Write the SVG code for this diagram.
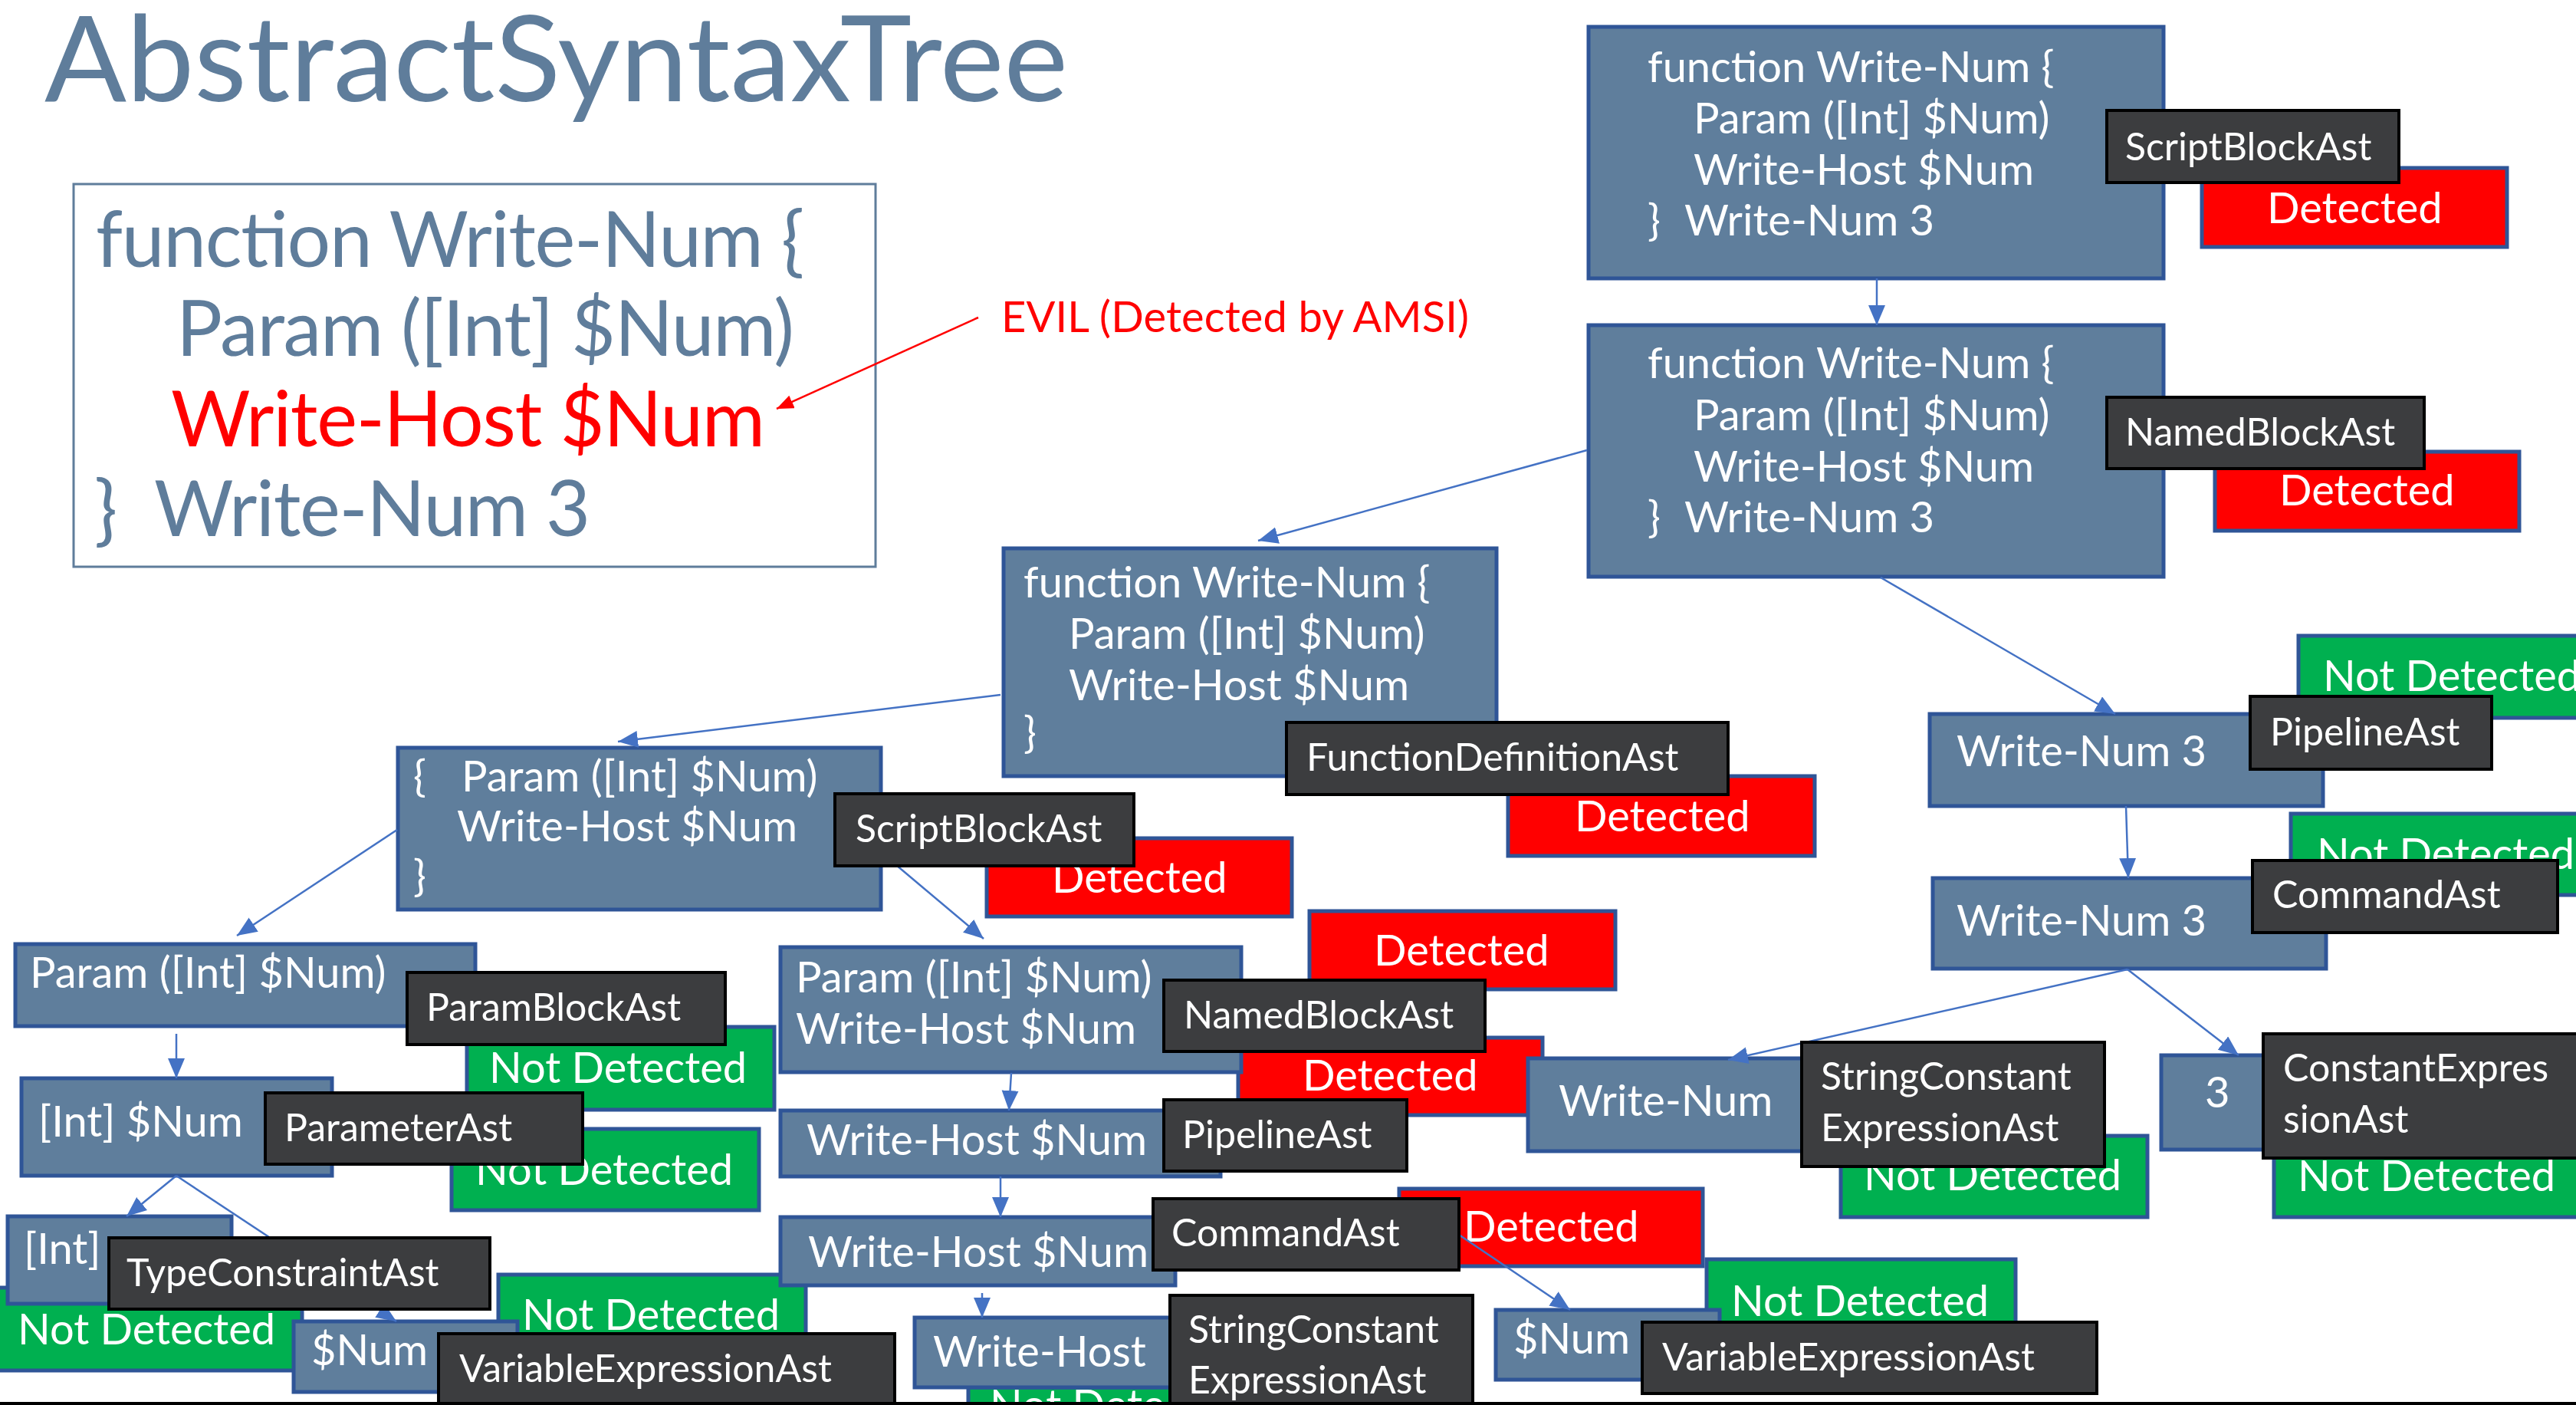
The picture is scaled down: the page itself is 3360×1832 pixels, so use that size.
<svg xmlns="http://www.w3.org/2000/svg" width="3360" height="1832" viewBox="0 0 3360 1832">
<style>
text{font-family:Lato,"Liberation Sans",sans-serif}
.title{font-size:155px;font-weight:400;fill:#5f7d9b}
.code{font-size:100px;fill:#5f7d9b}
.evil{font-size:56px;fill:#ff0000}
.node rect{fill:#5f7e9c;stroke:#2f5597;stroke-width:5}
.node text{font-size:56px;fill:#fff}
.lbl rect{fill:#3c3d3f;stroke:#000;stroke-width:4}
.lbl text{font-size:50px;fill:#fff}
.det rect{fill:#ff0000;stroke:#2f5597;stroke-width:5}
.nd rect{fill:#00b050;stroke:#2f5597;stroke-width:5}
.det text,.nd text{font-size:56px;fill:#fff}
.conn line{stroke:#4472c4;stroke-width:2.5;marker-end:url(#ah)}
</style>
<defs>
<marker id="ah" markerUnits="userSpaceOnUse" markerWidth="30" markerHeight="24" refX="26" refY="11" orient="auto"><path d="M0,0 L26,11 L0,22 Z" fill="#4472c4"/></marker>
<marker id="ahr" markerUnits="userSpaceOnUse" markerWidth="26" markerHeight="20" refX="22" refY="9" orient="auto"><path d="M0,0 L22,9 L0,18 Z" fill="#ff0000"/></marker>
</defs>
<rect x="0" y="0" width="3360" height="1832" fill="#fff"/>

<g id="title"><text class="title" x="58" y="132" textLength="1335" lengthAdjust="spacingAndGlyphs">AbstractSyntaxTree</text></g>

<g id="code">
<rect x="96" y="240" width="1046" height="499" fill="none" stroke="#5f7d9b" stroke-width="3"/>
<text class="code" x="125" y="348" textLength="924">function Write-Num {</text>
<text class="code" x="230" y="464" textLength="806">Param ([Int] $Num)</text>
<text class="code" x="223" y="582" textLength="775" style="fill:#ff0000">Write-Host $Num</text>
<text class="code" x="123" y="699">}</text>
<text class="code" x="201" y="699" textLength="569">Write-Num 3</text>
</g>
<g id="evil">
<line x1="1276" y1="414" x2="1013" y2="533" stroke="#ff0000" stroke-width="2.5" marker-end="url(#ahr)"/>
<text class="evil" x="1306" y="433" textLength="610">EVIL (Detected by AMSI)</text>
</g>

<!-- detection boxes -->
<g id="det1" class="det"><rect x="2872" y="219" width="398" height="103"/><text x="2957" y="291">Detected</text></g>
<g id="det2" class="det"><rect x="2889" y="589" width="397" height="103"/><text x="2973" y="659">Detected</text></g>
<g id="det3" class="det"><rect x="1967" y="1012" width="400" height="104"/><text x="2054" y="1084">Detected</text></g>
<g id="det4" class="det"><rect x="1287" y="1093" width="398" height="102"/><text x="1372" y="1164">Detected</text></g>
<g id="det5" class="det"><rect x="1708" y="1188" width="399" height="102"/><text x="1792" y="1259">Detected</text></g>
<g id="det6" class="det"><rect x="1615" y="1353" width="397" height="101"/><text x="1699" y="1422">Detected</text></g>
<g id="det7" class="det"><rect x="1825" y="1550" width="396" height="101"/><text x="1909" y="1619">Detected</text></g>
<g id="nd1" class="nd"><rect x="609" y="1339" width="401" height="108"/><text x="638" y="1412">Not Detected</text></g>
<g id="nd2" class="nd"><rect x="589" y="1472" width="401" height="106"/><text x="620" y="1545">Not Detected</text></g>
<g id="nd3" class="nd"><rect x="-5" y="1679" width="399" height="108"/><text x="23" y="1753">Not Detected</text></g>
<g id="nd4" class="nd"><rect x="650" y="1662" width="401" height="106"/><text x="681" y="1734">Not Detected</text></g>
<g id="nd5" class="nd"><rect x="1263" y="1809" width="400" height="104"/><text x="1291" y="1852">Not Detected</text></g>
<g id="nd6" class="nd"><rect x="2226" y="1642" width="403" height="104"/><text x="2258" y="1716">Not Detected</text></g>
<g id="nd7" class="nd"><rect x="2401" y="1481" width="400" height="106"/><text x="2431" y="1552">Not Detected</text></g>
<g id="nd8" class="nd"><rect x="2966" y="1481" width="420" height="106"/><text x="2997" y="1553">Not Detected</text></g>
<g id="nd9" class="nd"><rect x="2998" y="829" width="420" height="107"/><text x="3030" y="901">Not Detected</text></g>
<g id="nd10" class="nd"><rect x="2988" y="1061" width="420" height="106"/><text x="3022" y="1133">Not Detected</text></g>

<!-- nodes -->
<g id="nodeA" class="node"><rect x="2072" y="35" width="750" height="328"/>
<text x="2149" y="107">function Write-Num {</text><text x="2209" y="174">Param ([Int] $Num)</text><text x="2209" y="241">Write-Host $Num</text><text x="2149" y="307">}</text><text x="2197" y="307">Write-Num 3</text></g>
<g id="nodeB" class="node"><rect x="2072" y="424" width="750" height="328"/>
<text x="2149" y="493">function Write-Num {</text><text x="2209" y="561">Param ([Int] $Num)</text><text x="2209" y="628">Write-Host $Num</text><text x="2149" y="694">}</text><text x="2197" y="694">Write-Num 3</text></g>
<g id="nodeC" class="node"><rect x="1309" y="715" width="643" height="297"/>
<text x="1335" y="779">function Write-Num {</text><text x="1394" y="846">Param ([Int] $Num)</text><text x="1394" y="913">Write-Host $Num</text><text x="1335" y="975">}</text></g>
<g id="nodeD" class="node"><rect x="519" y="975" width="630" height="211"/>
<text x="539" y="1032">{</text><text x="602" y="1032">Param ([Int] $Num)</text><text x="596" y="1097">Write-Host $Num</text><text x="539" y="1162">}</text></g>
<g id="nodeE" class="node"><rect x="20" y="1231" width="600" height="107"/><text x="39" y="1288">Param ([Int] $Num)</text></g>
<g id="nodeF" class="node"><rect x="28" y="1406" width="405" height="127"/><text x="50" y="1482">[Int] $Num</text></g>
<g id="nodeG" class="node"><rect x="10" y="1586" width="292" height="114"/><text x="31" y="1648">[Int]</text></g>
<g id="nodeN1" class="node"><rect x="383" y="1723" width="292" height="92"/><text x="406" y="1780">$Num</text></g>
<g id="nodeH" class="node"><rect x="1018" y="1235" width="601" height="163"/><text x="1038" y="1294">Param ([Int] $Num)</text><text x="1038" y="1361">Write-Host $Num</text></g>
<g id="nodeI" class="node"><rect x="1018" y="1448" width="574" height="86"/><text x="1052" y="1506">Write-Host $Num</text></g>
<g id="nodeJ" class="node"><rect x="1018" y="1587" width="515" height="89"/><text x="1054" y="1652">Write-Host $Num</text></g>
<g id="nodeK" class="node"><rect x="1193" y="1718" width="340" height="91"/><text x="1217" y="1782">Write-Host</text></g>
<g id="nodeL" class="node"><rect x="2517" y="931" width="513" height="120"/><text x="2552" y="999">Write-Num 3</text></g>
<g id="nodeM" class="node"><rect x="2521" y="1145" width="513" height="118"/><text x="2552" y="1220">Write-Num 3</text></g>
<g id="nodeWN" class="node"><rect x="1993" y="1380" width="360" height="121"/><text x="2033" y="1455">Write-Num</text></g>
<g id="node3" class="node"><rect x="2819" y="1376" width="140" height="123"/><text x="2876" y="1444">3</text></g>
<g id="nodeN2" class="node"><rect x="1951" y="1708" width="292" height="91"/><text x="1974" y="1765">$Num</text></g>

<!-- connectors -->
<g id="connectors" class="conn">
<line x1="2448" y1="363" x2="2448" y2="424"/>
<line x1="2070" y1="587" x2="1641" y2="705"/>
<line x1="2453" y1="753" x2="2759" y2="931"/>
<line x1="1305" y1="906" x2="806" y2="967"/>
<line x1="518" y1="1082" x2="309" y2="1220"/>
<line x1="1150" y1="1112" x2="1283" y2="1224"/>
<line x1="230" y1="1348" x2="230" y2="1406"/>
<line x1="230" y1="1533" x2="165" y2="1586"/>
<line x1="230" y1="1533" x2="517" y2="1723"/>
<line x1="1319" y1="1399" x2="1316" y2="1448"/>
<line x1="1305" y1="1534" x2="1305" y2="1587"/>
<line x1="1281" y1="1686" x2="1281" y2="1718"/>
<line x1="1903" y1="1610" x2="2048" y2="1708"/>
<line x1="2773" y1="1051" x2="2776" y2="1145"/>
<line x1="2775" y1="1264" x2="2254" y2="1382"/>
<line x1="2775" y1="1264" x2="2920" y2="1376"/>
</g>

<!-- AST type labels -->
<g id="lbl1" class="lbl"><rect x="2748" y="144" width="381" height="94"/><text x="2772" y="209">ScriptBlockAst</text></g>
<g id="lbl2" class="lbl"><rect x="2748" y="518" width="414" height="93"/><text x="2772" y="581">NamedBlockAst</text></g>
<g id="lbl3" class="lbl"><rect x="1678" y="942" width="576" height="94"/><text x="1704" y="1005">FunctionDefinitionAst</text></g>
<g id="lbl4" class="lbl"><rect x="1089" y="1035" width="390" height="94"/><text x="1116" y="1098">ScriptBlockAst</text></g>
<g id="lbl5" class="lbl"><rect x="531" y="1268" width="415" height="94"/><text x="556" y="1331">ParamBlockAst</text></g>
<g id="lbl6" class="lbl"><rect x="346" y="1425" width="414" height="93"/><text x="371" y="1488">ParameterAst</text></g>
<g id="lbl7" class="lbl"><rect x="142" y="1614" width="497" height="93"/><text x="165" y="1677">TypeConstraintAst</text></g>
<g id="lbl8" class="lbl"><rect x="572" y="1739" width="595" height="110"/><text x="599" y="1802">VariableExpressionAst</text></g>
<g id="lbl9" class="lbl"><rect x="1518" y="1278" width="419" height="93"/><text x="1544" y="1341">NamedBlockAst</text></g>
<g id="lbl10" class="lbl"><rect x="1518" y="1434" width="317" height="93"/><text x="1542" y="1497">PipelineAst</text></g>
<g id="lbl11" class="lbl"><rect x="1504" y="1563" width="399" height="93"/><text x="1528" y="1625">CommandAst</text></g>
<g id="lbl12" class="lbl"><rect x="1526" y="1689" width="395" height="160"/><text x="1550" y="1751">StringConstant</text><text x="1550" y="1817">ExpressionAst</text></g>
<g id="lbl13" class="lbl"><rect x="2142" y="1724" width="593" height="93"/><text x="2168" y="1787">VariableExpressionAst</text></g>
<g id="lbl14" class="lbl"><rect x="2350" y="1359" width="395" height="162"/><text x="2375" y="1421">StringConstant</text><text x="2375" y="1488">ExpressionAst</text></g>
<g id="lbl15" class="lbl"><rect x="2952" y="1348" width="420" height="162"/><text x="2978" y="1410">ConstantExpres</text><text x="2978" y="1477">sionAst</text></g>
<g id="lbl16" class="lbl"><rect x="2935" y="908" width="315" height="95"/><text x="2961" y="972">PipelineAst</text></g>
<g id="lbl17" class="lbl"><rect x="2938" y="1122" width="398" height="94"/><text x="2964" y="1184">CommandAst</text></g>

<rect x="0" y="1828" width="3360" height="4" fill="#000"/>
</svg>
